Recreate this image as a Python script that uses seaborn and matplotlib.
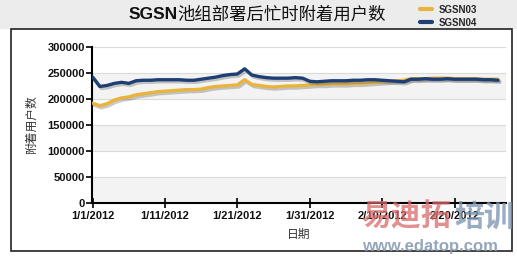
import numpy as np
import pandas as pd
import matplotlib
matplotlib.use("Agg")
import matplotlib.pyplot as plt
import matplotlib.patheffects as pe
from matplotlib.patches import Rectangle
from matplotlib.lines import Line2D
import seaborn as sns

# ---------------- data ----------------
start_date = "2012-01-01"
n_days = 57
sgsn03 = [192, 187, 191, 198, 202, 204, 208, 210, 212, 214,
          215, 216, 217, 218, 218, 219, 222, 224, 225, 226,
          227, 237, 228, 226, 224, 223, 224, 225, 225, 226,
          227, 228, 228, 229, 229, 229, 230, 230, 231, 232,
          233, 234, 235, 236, 239, 239, 239, 240, 240, 240,
          239, 239, 239, 239, 238, 238, 238]
sgsn04 = [242, 224, 226, 230, 232, 230, 235, 236, 236, 237,
          237, 237, 237, 236, 236, 238, 240, 242, 245, 247,
          248, 258, 246, 243, 241, 240, 240, 240, 241, 240,
          234, 233, 234, 235, 235, 235, 236, 236, 237, 237,
          236, 235, 234, 233, 238, 238, 239, 238, 238, 239,
          238, 238, 238, 238, 237, 237, 236]
series_names = ["SGSN03", "SGSN04"]
y_ticks = [0, 50000, 100000, 150000, 200000, 250000, 300000]
x_tick_labels = ["1/1/2012", "1/11/2012", "1/21/2012", "1/31/2012", "2/10/2012", "2/20/2012"]
title_latin = "SGSN"
title_cjk = "池组部署后忙时附着用户数"
x_label = "日期"
y_label = "附着用户数"

dates = pd.date_range(start_date, periods=n_days, freq="D")
df = pd.DataFrame({
    "date": np.concatenate([dates, dates]),
    "value": np.array(sgsn03 + sgsn04) * 1000,
    "series": [series_names[0]] * n_days + [series_names[1]] * n_days,
})

# ---------------- style ----------------
sns.set_style("white")
plt.rcParams["font.family"] = ["Liberation Sans", "Noto Sans CJK SC", "DejaVu Sans"]

colors = {"SGSN03": "#e8b43c", "SGSN04": "#1d3f75"}

fig = plt.figure(figsize=(5.17, 2.58), dpi=100)
fig.patch.set_facecolor("white")

# title band and outer frame (behind the axes)
fig.patches.append(Rectangle((0, 0.888), 1, 0.112, transform=fig.transFigure,
                             facecolor="#ececec", edgecolor="none", zorder=-10))
fig.patches.append(Rectangle((0.021, 0.027), 0.969, 0.861, transform=fig.transFigure,
                             facecolor="white", edgecolor="#222222", lw=1.2, zorder=-9))

ax = fig.add_axes([0.178, 0.213, 0.801, 0.605])
ax.set_zorder(2)
ax.set_facecolor("none")

# alternating bands + gridlines
for lo in (0, 100000, 200000):
    ax.axhspan(lo, lo + 50000, color="#f3f3f3", zorder=0, lw=0)
for yv in y_ticks[1:]:
    ax.axhline(yv, color="#dadada", lw=0.8, zorder=0.5)

n_before = len(ax.get_lines())
sns.lineplot(data=df, x="date", y="value", hue="series", palette=colors,
             hue_order=series_names, ax=ax, lw=2.4, legend=False,
             solid_capstyle="round", solid_joinstyle="round")
for line in ax.get_lines()[n_before:]:
    line.set_path_effects([pe.SimpleLineShadow(offset=(1.2, -1.5), shadow_color="#666666", alpha=0.35),
                           pe.Normal()])
    line.set_zorder(3)

x0 = pd.Timestamp(start_date)
ax.set_xlim(x0 - pd.Timedelta(hours=2), x0 + pd.Timedelta(days=57, hours=3))
ax.set_ylim(0, 300000)
ax.set_yticks(y_ticks)
ax.set_yticklabels([str(v) for v in y_ticks])
tick_dates = [x0 + pd.Timedelta(days=10 * i) for i in range(len(x_tick_labels))]
ax.set_xticks(tick_dates)
ax.set_xticklabels(x_tick_labels)

for lab in ax.get_xticklabels() + ax.get_yticklabels():
    lab.set_fontweight("bold")
    lab.set_fontsize(8)
    lab.set_color("#111111")

ax.tick_params(axis="y", direction="out", length=4, width=1.2, color="black", pad=1, left=True)
ax.tick_params(axis="x", direction="inout", length=7, width=1.2, color="black", pad=2, bottom=True)

for s in ["top", "right"]:
    ax.spines[s].set_visible(False)
for s in ["left", "bottom"]:
    ax.spines[s].set_visible(True)
    ax.spines[s].set_color("black")
    ax.spines[s].set_linewidth(1.5)

ax.set_xlabel(x_label, fontsize=8.5, color="#333333", family=["Noto Sans CJK SC"], labelpad=5)
ax.set_ylabel(y_label, fontsize=8.5, color="#333333", family=["Noto Sans CJK SC"], labelpad=7)

# title
fig.text(0.343, 0.945, title_latin, ha="right", va="center", fontsize=12.5,
         fontweight="bold", family=["Liberation Sans"], color="#111111")
fig.text(0.343, 0.945, title_cjk, ha="left", va="center", fontsize=12.5,
         family=["Noto Sans CJK SC"], color="#111111")

# legend
handles = [Line2D([0], [0], color=colors[n], lw=3, solid_capstyle="round") for n in series_names]
leg = fig.legend(handles, series_names, loc="upper left", bbox_to_anchor=(0.795, 1.015),
                 bbox_transform=fig.transFigure, frameon=False, handlelength=1.3,
                 handletextpad=0.6, labelspacing=0.3,
                 prop={"family": "Liberation Sans", "weight": "bold", "size": 7})

# watermark
fig.text(0.698, 0.160, "易迪拓", fontsize=21.5, fontweight="bold", color="#d96a6a", alpha=0.75,
         family=["Noto Sans CJK SC"], va="center", ha="left", zorder=10)
fig.text(0.878, 0.160, "培训", fontsize=21.5, fontweight="bold", color="#7f97b3", alpha=0.8,
         family=["Noto Sans CJK SC"], va="center", ha="left", zorder=10)
fig.text(0.700, 0.045, "www.edatop.com", fontsize=12, fontweight="bold", color="#8a9db5",
         alpha=0.9, family=["Liberation Sans"], va="center", ha="left", zorder=10)

fig.savefig("out.png", dpi=100)
